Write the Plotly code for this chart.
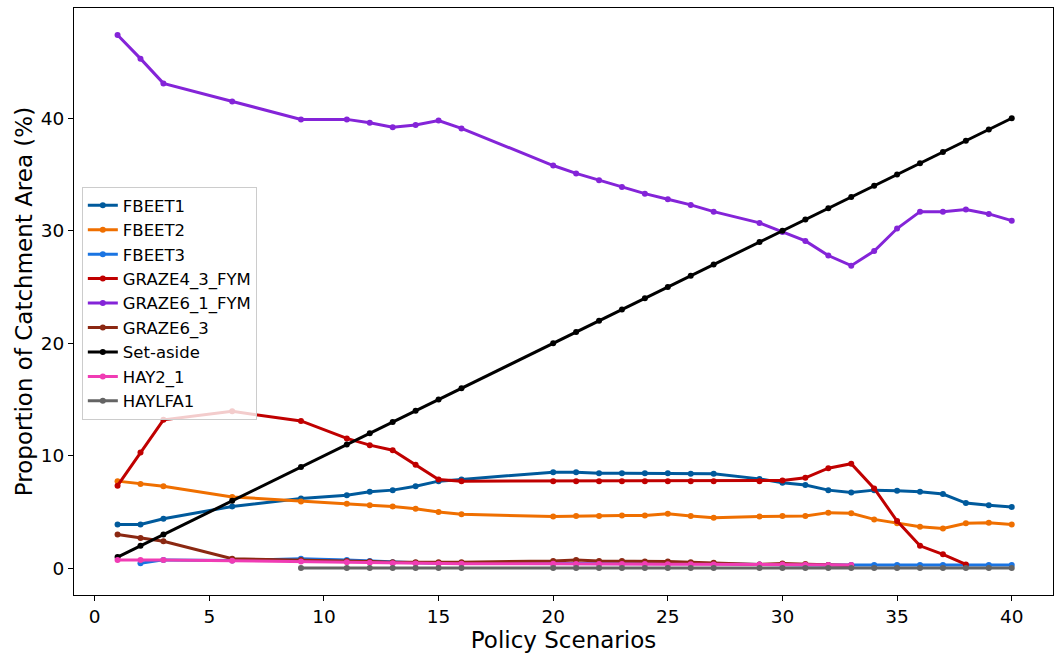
import plotly.graph_objects as go

X_ALL = [1, 2, 3, 6, 9, 11, 12, 13, 14, 15, 16, 20, 21, 22, 23, 24, 25, 26, 27,
         29, 30, 31, 32, 33, 34, 35, 36, 37, 38, 39, 40]

fbeet1 = [3.9, 3.9, 4.4, 5.5, 6.2, 6.5, 6.8, 6.95, 7.3, 7.75, 7.9, 8.55, 8.55, 8.45, 8.45, 8.45, 8.45, 8.4, 8.4,
          7.95, 7.6, 7.4, 6.95, 6.75, 6.95, 6.9, 6.8, 6.6, 5.8, 5.6, 5.45]
fbeet2 = [7.75, 7.5, 7.3, 6.35, 5.95, 5.75, 5.6, 5.5, 5.3, 5.0, 4.8, 4.6, 4.65, 4.65, 4.7, 4.7, 4.85, 4.65, 4.5,
          4.6, 4.65, 4.65, 4.95, 4.9, 4.35, 4.0, 3.7, 3.55, 4.0, 4.05, 3.9]
x_fbeet3 = X_ALL[1:]
fbeet3 = [0.45, 0.75, 0.7, 0.85, 0.75, 0.65, 0.55, 0.5, 0.45, 0.45, 0.4, 0.4, 0.4, 0.4, 0.4, 0.4, 0.4, 0.4,
          0.35, 0.3, 0.3, 0.3, 0.3, 0.3, 0.3, 0.3, 0.3, 0.3, 0.3, 0.3]
x_graze43 = X_ALL[:29]
graze4_3_fym = [7.35, 10.3, 13.2, 13.95, 13.1, 11.55, 10.95, 10.5, 9.2, 7.9, 7.75, 7.75, 7.75, 7.75, 7.75, 7.75,
                7.75, 7.75, 7.75, 7.75, 7.8, 8.05, 8.9, 9.3, 7.1, 4.2, 2.0, 1.25, 0.35]
graze6_1_fym = [47.4, 45.3, 43.1, 41.5, 39.9, 39.9, 39.6, 39.2, 39.4, 39.8, 39.1, 35.8, 35.1, 34.5, 33.9, 33.3,
                32.8, 32.3, 31.7, 30.7, 29.9, 29.1, 27.8, 26.9, 28.2, 30.2, 31.7, 31.7, 31.9, 31.5, 30.9]
x_graze63 = X_ALL[:24]
graze6_3 = [3.0, 2.7, 2.4, 0.85, 0.75, 0.65, 0.6, 0.55, 0.55, 0.55, 0.55, 0.65, 0.75, 0.65, 0.65, 0.6, 0.6,
            0.55, 0.5, 0.35, 0.42, 0.38, 0.3, 0.25]
set_aside = [1, 2, 3, 6, 9, 11, 12, 13, 14, 15, 16, 20, 21, 22, 23, 24, 25, 26, 27,
             29, 30, 31, 32, 33, 34, 35, 36, 37, 38, 39, 40]
x_hay = X_ALL[:24]
hay2_1 = [0.75, 0.75, 0.75, 0.68, 0.6, 0.55, 0.5, 0.45, 0.42, 0.4, 0.4, 0.4, 0.38, 0.38, 0.38, 0.38, 0.36,
          0.36, 0.35, 0.33, 0.33, 0.32, 0.3, 0.3]
x_haylfa = X_ALL[4:]
haylfa1 = [0.02, 0.02, 0.02, 0.02, 0.02, 0.02, 0.02, 0.02, 0.02, 0.02, 0.02, 0.02, 0.02, 0.02,
           0.02, 0.02, 0.03, 0.03, 0.03, 0.03, 0.03, 0.03, 0.04, 0.04, 0.04, 0.04, 0.04]

series = [
    ("FBEET1", X_ALL, fbeet1, "#005a9c"),
    ("FBEET2", X_ALL, fbeet2, "#ef6f00"),
    ("FBEET3", x_fbeet3, fbeet3, "#1a74e2"),
    ("GRAZE4_3_FYM", x_graze43, graze4_3_fym, "#c00000"),
    ("GRAZE6_1_FYM", X_ALL, graze6_1_fym, "#8424d8"),
    ("GRAZE6_3", x_graze63, graze6_3, "#8b2812"),
    ("Set-aside", X_ALL, set_aside, "#000000"),
    ("HAY2_1", x_hay, hay2_1, "#f03cb4"),
    ("HAYLFA1", x_haylfa, haylfa1, "#646464"),
]

fig = go.Figure()
for name, xs, ys, col in series:
    fig.add_trace(go.Scatter(x=xs, y=ys, name=name, mode="lines+markers",
                             line=dict(color=col, width=3),
                             marker=dict(color=col, size=6)))

axis_common = dict(showline=True, linecolor="black", linewidth=1, mirror=True,
                   ticks="outside", ticklen=5, tickcolor="black", showgrid=False,
                   zeroline=False, tickfont=dict(size=18.5, color="black"))

fig.update_layout(
    width=1054, height=653,
    margin=dict(l=74, r=1, t=8, b=58),
    plot_bgcolor="white", paper_bgcolor="white",
    font=dict(family="DejaVu Sans", color="black"),
    xaxis=dict(range=[-0.9, 41.8], tickvals=[0, 5, 10, 15, 20, 25, 30, 35, 40],
               title=dict(text="Policy Scenarios", font=dict(size=23), standoff=0), **axis_common),
    yaxis=dict(range=[-2.37, 49.8], tickvals=[0, 10, 20, 30, 40],
               title=dict(text="Proportion of Catchment Area (%)", font=dict(size=23), standoff=1), **axis_common),
    legend=dict(x=0.008, y=0.695, xanchor="left", yanchor="top",
                bgcolor="rgba(255,255,255,0.8)", bordercolor="#cccccc", borderwidth=1,
                font=dict(size=16.5, color="black")),
    showlegend=True,
)

fig.write_html("out.html")
